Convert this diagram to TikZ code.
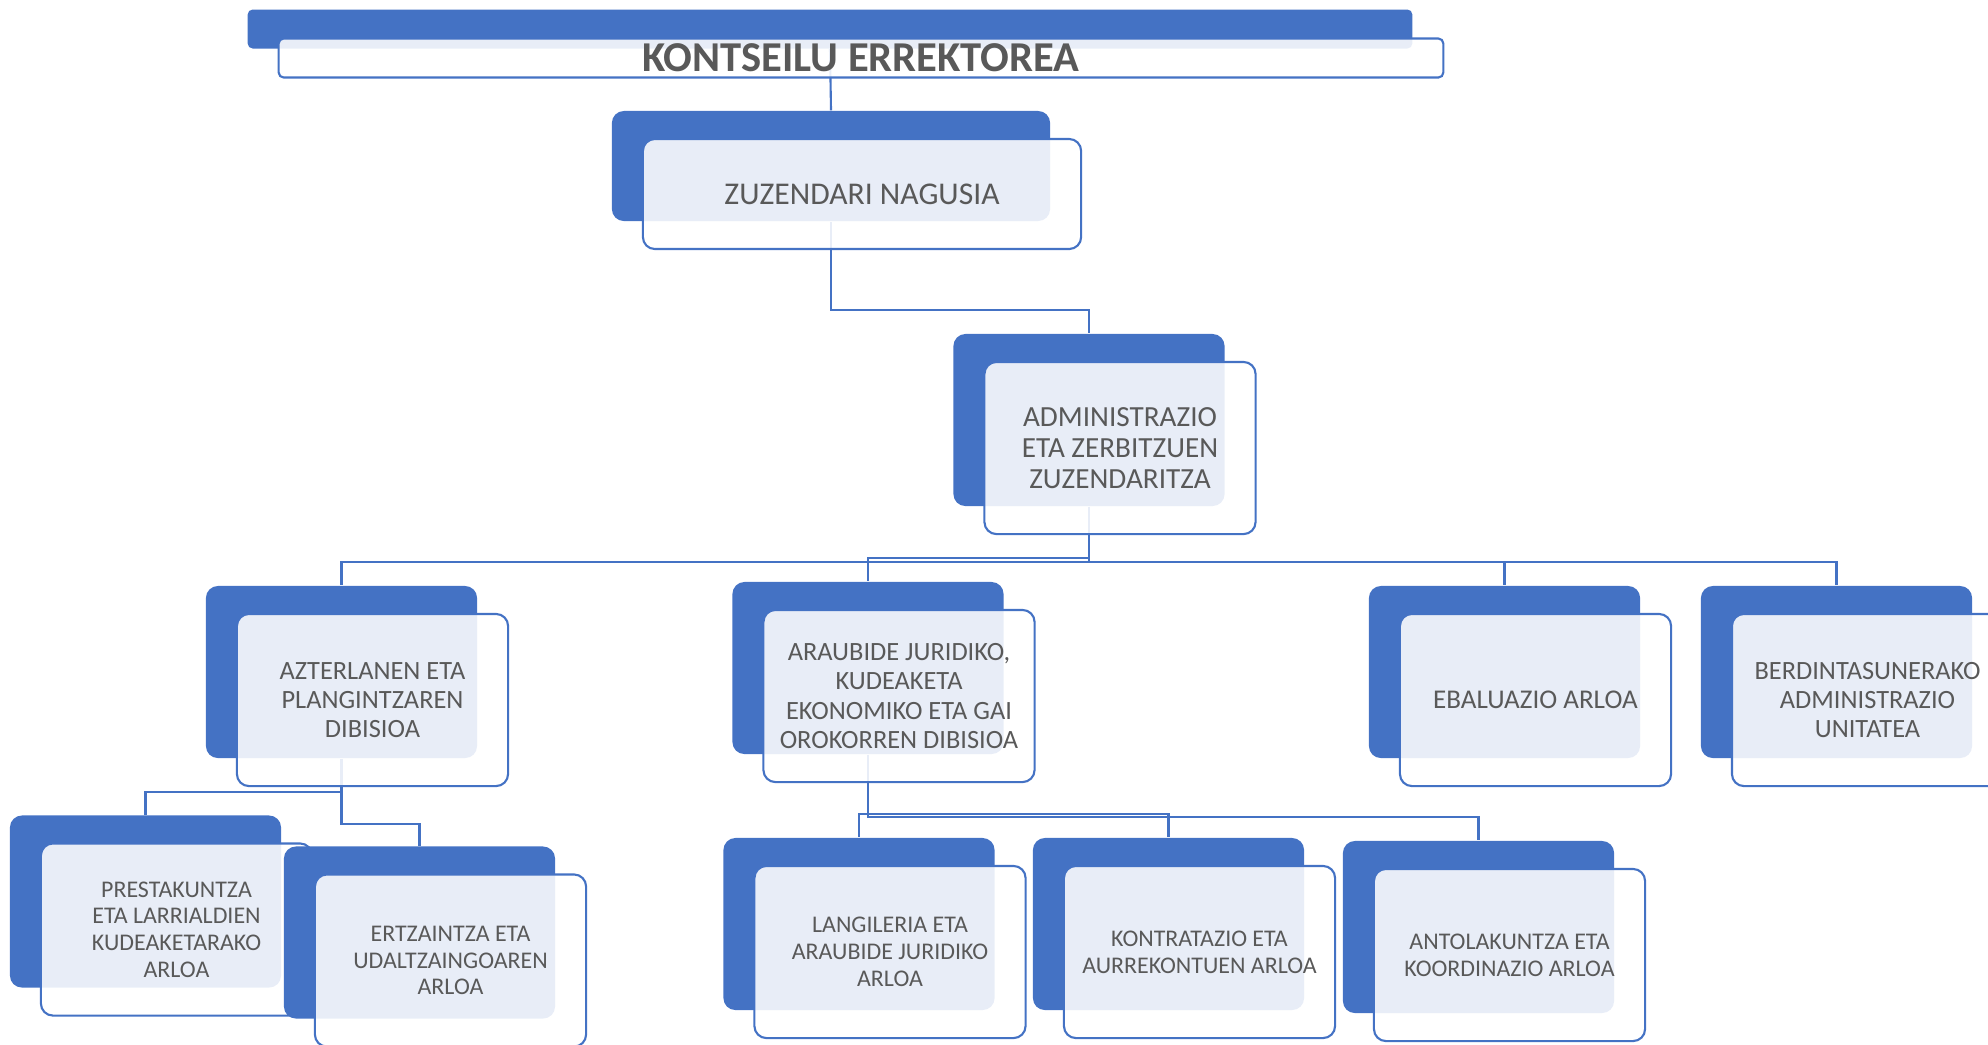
\documentclass[tikz,border=0pt]{standalone}
\usepackage{fontspec}
\setmainfont{Carlito}
\usetikzlibrary{backgrounds}
\definecolor{boxblue}{HTML}{4472C4}
\definecolor{textgrey}{HTML}{595959}
\tikzstyle{back} = [rectangle, rounded corners=0.12cm, fill=boxblue, minimum width=2.71cm, minimum height=1.72cm, inner sep=0pt]
\tikzstyle{front} = [rectangle, rounded corners=0.12cm, draw=boxblue, line width=0.6pt, fill=white, fill opacity=0.88, text opacity=1, text=textgrey, minimum width=2.71cm, minimum height=1.72cm, inner sep=0pt, align=center]
\tikzstyle{conn} = [draw=boxblue, line width=0.6pt]
\tikzstyle{mid} = [font=\fontsize{7.5}{8.3}\selectfont]
\tikzstyle{low} = [font=\fontsize{6.8}{7.6}\selectfont]

\begin{document}
\begin{tikzpicture}[x=0.01cm, y=-0.01cm]
    \useasboundingbox (0,0) rectangle (1988,1044);
    % top levels
    \node (topB) [back, rounded corners=0.05cm, minimum width=11.64cm, minimum height=0.39cm] at (830,29) {};
    \node (top) [front, rounded corners=0.05cm, minimum width=11.64cm, minimum height=0.39cm, font=\bfseries\fontsize{12.1}{13}\selectfont] at ([shift={(31,29)}]topB.center) {KONTSEILU ERREKTOREA};
    \node (zuzB) [back, minimum width=4.38cm, minimum height=1.1cm] at (831,166) {};
    \node (zuz) [front, minimum width=4.38cm, minimum height=1.1cm, font=\fontsize{9}{10}\selectfont] at ([shift={(31,28)}]zuzB.center) {ZUZENDARI NAGUSIA};
    \node (adminB) [back] at (1089,420) {};
    \node (admin) [front, font=\fontsize{8.3}{8.9}\selectfont] at ([shift={(31,28)}]adminB.center) {ADMINISTRAZIO\\ETA ZERBITZUEN\\ZUZENDARITZA};
    % divisions
    \node (azB) [back] at (341.5,672) {};
    \node (az) [front, mid] at ([shift={(31,28)}]azB.center) {AZTERLANEN ETA\\PLANGINTZAREN\\DIBISIOA};
    \node (araB) [back] at (868,668) {};
    \node (ara) [front, mid] at ([shift={(31,28)}]araB.center) {ARAUBIDE JURIDIKO,\\KUDEAKETA\\EKONOMIKO ETA GAI\\OROKORREN DIBISIOA};
    \node (ebalB) [back] at (1504.5,672) {};
    \node (ebal) [front, font=\fontsize{7.7}{8.5}\selectfont] at ([shift={(31,28)}]ebalB.center) {EBALUAZIO ARLOA};
    \node (berdB) [back] at (1836.5,672) {};
    \node (berd) [front, mid] at ([shift={(31,28)}]berdB.center) {BERDINTASUNERAKO\\ADMINISTRAZIO\\UNITATEA};
    % areas
    \node (presB) [back] at (145.5,901.5) {};
    \node (pres) [front, low] at ([shift={(31,28)}]presB.center) {PRESTAKUNTZA\\ETA LARRIALDIEN\\KUDEAKETARAKO\\ARLOA};
    \node (ertzB) [back] at (419.5,932.5) {};
    \node (ertz) [front, low] at ([shift={(31,28)}]ertzB.center) {ERTZAINTZA ETA\\UDALTZAINGOAREN\\ARLOA};
    \node (langB) [back] at (859,924) {};
    \node (lang) [front, low] at ([shift={(31,28)}]langB.center) {LANGILERIA ETA\\ARAUBIDE JURIDIKO\\ARLOA};
    \node (kontB) [back] at (1168.5,924) {};
    \node (kont) [front, low] at ([shift={(31,28)}]kontB.center) {KONTRATAZIO ETA\\AURREKONTUEN ARLOA};
    \node (antoB) [back] at (1478.5,927) {};
    \node (anto) [front, low] at ([shift={(31,28)}]antoB.center) {ANTOLAKUNTZA ETA\\KOORDINAZIO ARLOA};
    % connectors behind the boxes
    \begin{scope}[on background layer]
        \draw [conn] (topB.south) -- (zuzB.north);
        \draw [conn] (zuzB.south) -- ++(0,88) -| (adminB.north);
        \draw [conn] (adminB.south) -- ++(0,55) -| (azB.north);
        \draw [conn] (adminB.south) -- ++(0,51) -| (araB.north);
        \draw [conn] (adminB.south) -- ++(0,55) -| (ebalB.north);
        \draw [conn] (adminB.south) -- ++(0,55) -| (berdB.north);
        \draw [conn] (azB.south) -- ++(0,33) -| (presB.north);
        \draw [conn] (azB.south) -- ++(0,65) -| (ertzB.north);
        \draw [conn] (araB.south) -- ++(0,59) -| (langB.north);
        \draw [conn] (araB.south) -- ++(0,59) -| (kontB.north);
        \draw [conn] (araB.south) -- ++(0,62) -| (antoB.north);
    \end{scope}
\end{tikzpicture}
\end{document}
